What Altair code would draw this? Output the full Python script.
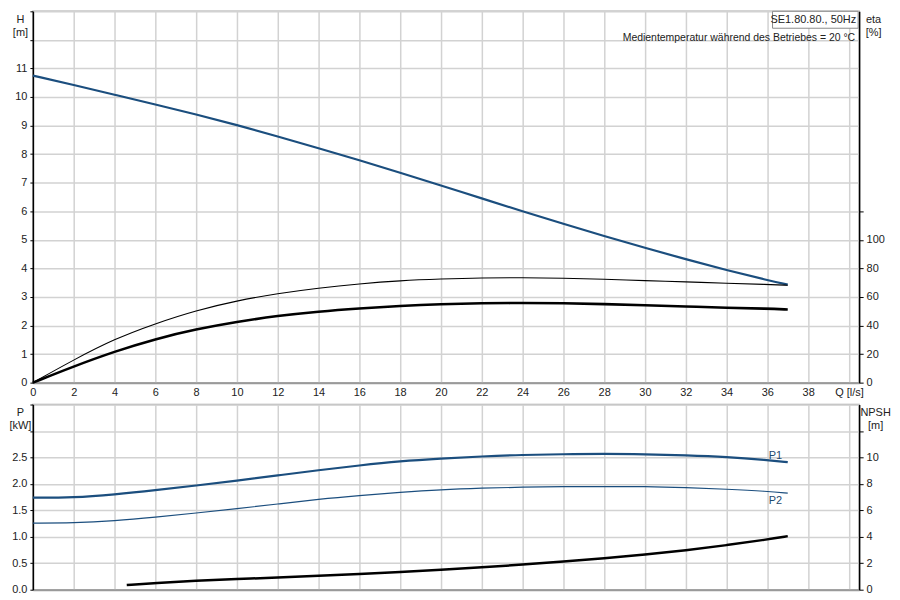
import altair as alt
import pandas as pd

# ---------------- data ----------------
Q = [0, 2, 4, 6, 8, 10, 12, 14, 16, 18, 20, 22, 24, 26, 28, 30, 32, 34, 36, 37]
H = [10.75, 10.42, 10.08, 9.74, 9.39, 9.02, 8.62, 8.21, 7.79, 7.35, 6.9, 6.45,
     6.0, 5.56, 5.13, 4.72, 4.32, 3.94, 3.59, 3.43]
ETA_PUMP = [0, 16.0, 30.6, 41.4, 50.6, 57.4, 62.4, 66.2, 69.2, 71.4, 72.6, 73.4,
            73.5, 73.2, 72.4, 71.4, 70.6, 69.6, 68.8, 68.2]
ETA_TOTAL = [0, 11.4, 21.8, 30.6, 37.4, 42.6, 46.8, 49.8, 52.0, 53.8, 55.0, 55.6,
             55.8, 55.6, 55.0, 54.2, 53.4, 52.4, 51.8, 51.2]
P1 = [1.74, 1.74, 1.8, 1.88, 1.97, 2.06, 2.16, 2.26, 2.35, 2.43, 2.48, 2.52,
      2.55, 2.56, 2.57, 2.56, 2.54, 2.51, 2.45, 2.41]
P2 = [1.26, 1.26, 1.3, 1.37, 1.45, 1.53, 1.62, 1.71, 1.78, 1.84, 1.89, 1.92,
      1.94, 1.95, 1.95, 1.95, 1.93, 1.90, 1.86, 1.825]
Q_NPSH = [4.6, 6, 8, 10, 12, 14, 16, 18, 20, 22, 24, 26, 28, 30, 32, 34, 36, 37]
NPSH = [0.35, 0.5, 0.68, 0.8, 0.93, 1.05, 1.18, 1.33, 1.5, 1.69, 1.9, 2.13, 2.38,
        2.65, 2.98, 3.36, 3.8, 4.05]

P_LABELS = ["P1", "P2"]
P_LABEL_Q = [36.4, 36.4]
P_LABEL_P = [2.53, 1.67]

X_TICKS = list(range(0, 41, 2))
H_TICKS = list(range(0, 14))
ETA_TICKS = list(range(0, 121, 20))
P_TICKS = [0, 0.5, 1.0, 1.5, 2.0, 2.5, 3.0, 3.5]
NPSH_TICKS = list(range(0, 13, 2))

MODEL = "SE1.80.80., 50Hz"
TEMP = "Medientemperatur während des Betriebes = 20 °C"

# ---------------- styling ----------------
W = 830
HT = 373
HB = 186
BLUE = "#1b4e7e"
GRID = "#d2d2d2"
FONT = "Liberation Sans"
TXT = "#222222"
INTERP = "basis"

df_h = pd.DataFrame({"Q": Q, "H": H})
df_eta_pump = pd.DataFrame({"Q": Q, "eta": ETA_PUMP})
df_eta_total = pd.DataFrame({"Q": Q, "eta": ETA_TOTAL})
df_p1 = pd.DataFrame({"Q": Q, "P": P1})
df_p2 = pd.DataFrame({"Q": Q, "P": P2})
df_plab = pd.DataFrame({"Q": P_LABEL_Q, "P": P_LABEL_P, "label": P_LABELS})
df_npsh = pd.DataFrame({"Q": Q_NPSH, "NPSH": NPSH})

xscale = alt.Scale(domain=[0, 40.5], nice=False, zero=False)

x_top = alt.X(
    "Q:Q", scale=xscale,
    axis=alt.Axis(values=X_TICKS, title=None, grid=True, gridColor=GRID, gridWidth=1.5,
                  labelExpr="datum.value == 40 ? 'Q [l/s]' : datum.label",
                  tickSize=0, labelPadding=4, labelFlush=False, labelOverlap=False,
                  domainColor="#9a9a9a", domainWidth=2),
)
x_bot = alt.X(
    "Q:Q", scale=xscale,
    axis=alt.Axis(values=X_TICKS, title=None, grid=True, gridColor=GRID, gridWidth=1.5,
                  labels=False, ticks=False, domainColor="#9a9a9a", domainWidth=2),
)


def left_axis(values, expr, title, fmt=None):
    kw = dict(values=values, labelExpr=expr, title=title, titleAngle=0,
              titleAlign="center", titleBaseline="top", titleX=-13, titleY=2,
              titleFontWeight="normal", titleFontSize=11, titleLineHeight=13,
              grid=True, gridColor=GRID, gridWidth=1.5, domainColor="black",
              domainWidth=1.5, tickSize=3, tickColor="black", labelPadding=3)
    if fmt:
        kw["format"] = fmt
    return alt.Axis(**kw)


def right_axis(values, expr, title, tx=14):
    return alt.Axis(values=values, labelExpr=expr, title=title, orient="right",
                    titleAngle=0, titleAlign="center", titleBaseline="top",
                    titleX=tx, titleY=2, titleFontWeight="normal", titleFontSize=11,
                    titleLineHeight=13, grid=False, domainColor="black",
                    domainWidth=1.5, tickSize=4, tickColor="black", labelPadding=3)


# ---------------- top panel ----------------
h_line = alt.Chart(df_h).mark_line(color=BLUE, strokeWidth=2.2, interpolate=INTERP).encode(
    x=x_top,
    y=alt.Y("H:Q", scale=alt.Scale(domain=[0, 13], nice=False),
            axis=left_axis(H_TICKS, "datum.value > 11 ? '' : datum.label", ["H", "[m]"])),
)

y_eta = alt.Y("eta:Q", scale=alt.Scale(domain=[0, 260], nice=False),
              axis=right_axis(ETA_TICKS, "datum.value > 100 ? '' : datum.label", ["eta", "[%]"]))

eta_pump = alt.Chart(df_eta_pump).mark_line(color="black", strokeWidth=1.1, interpolate=INTERP).encode(
    x=x_top, y=y_eta)
eta_total = alt.Chart(df_eta_total).mark_line(color="black", strokeWidth=2.6, interpolate=INTERP).encode(
    x=x_top, y=y_eta)

box = alt.Chart(pd.DataFrame({"t": [MODEL]})).mark_rect(
    fill="white", stroke="#8a8a8a", strokeWidth=1
).encode(x=alt.value(W - 87), x2=alt.value(W - 1), y=alt.value(0), y2=alt.value(17))

box_text = alt.Chart(pd.DataFrame({"t": [MODEL]})).mark_text(
    align="right", baseline="middle", fontSize=11, font=FONT, color=TXT
).encode(text="t:N", x=alt.value(W - 3), y=alt.value(9))

temp_text = alt.Chart(pd.DataFrame({"t": [TEMP]})).mark_text(
    align="right", baseline="middle", fontSize=10.5, font=FONT, color=TXT
).encode(text="t:N", x=alt.value(W - 4), y=alt.value(27))

top = alt.layer(
    h_line, alt.layer(eta_pump, eta_total), box, box_text, temp_text
).resolve_scale(y="independent").properties(width=W, height=HT)

# ---------------- bottom panel ----------------
y_p = alt.Y("P:Q", scale=alt.Scale(domain=[0, 3.5], nice=False),
            axis=left_axis(P_TICKS, "datum.value > 2.5 ? '' : datum.label", ["P", "[kW]"], fmt=".1f"))

p1_line = alt.Chart(df_p1).mark_line(color=BLUE, strokeWidth=2.2, interpolate=INTERP).encode(
    x=x_bot, y=y_p)
p2_line = alt.Chart(df_p2).mark_line(color=BLUE, strokeWidth=1.2, interpolate=INTERP).encode(
    x=x_bot, y=y_p)
p_labels = alt.Chart(df_plab).mark_text(
    align="center", baseline="middle", fontSize=11, font=FONT, color="#1f4a6e"
).encode(x=x_bot, y=y_p, text="label:N")

npsh_line = alt.Chart(df_npsh).mark_line(color="black", strokeWidth=2.5, interpolate=INTERP).encode(
    x=x_bot,
    y=alt.Y("NPSH:Q", scale=alt.Scale(domain=[0, 14], nice=False),
            axis=right_axis(NPSH_TICKS, "datum.value > 10 ? '' : datum.label", ["NPSH", "[m]"], tx=16)),
)

bottom = alt.layer(alt.layer(p1_line, p2_line, p_labels), npsh_line).resolve_scale(
    y="independent").properties(width=W, height=HB)

chart = alt.vconcat(top, bottom, spacing=4).properties(
    padding={"left": 0, "top": 0, "right": 0, "bottom": 0}
).configure_view(
    stroke="#a8a8a8", strokeWidth=1.5
).configure_axis(
    labelFont=FONT, titleFont=FONT, labelFontSize=11, labelColor=TXT, titleColor=TXT
)

chart.save("out.html", embed_options={"renderer": "svg", "actions": False})
